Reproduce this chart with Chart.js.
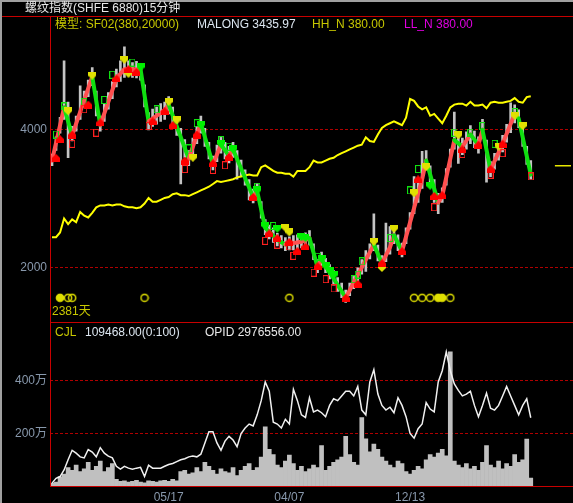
<!DOCTYPE html>
<html lang="zh">
<head>
<meta charset="UTF-8">
<title>螺纹指数 15分钟</title>
<script src="https://cdn.jsdelivr.net/npm/chart.js"></script>
<style>
  body { margin:0; background:#000; width:573px; height:503px; overflow:hidden; position:relative;
         font-family:'Liberation Sans','Noto Sans CJK SC',sans-serif; font-size:12px; }
  .frame-l { position:absolute; left:0; top:0; width:2px; height:503px; background:#a0a0a0; }
  .frame-t { position:absolute; left:0; top:0; width:573px; height:2px; background:#a0a0a0; }
  .rl { position:absolute; background:#c80000; z-index:2; }
  .txt { position:absolute; white-space:pre; line-height:14px; z-index:3; }
  canvas { position:absolute; left:0; }
</style>
</head>
<body>
  <div class="frame-t"></div>
  <div class="frame-l"></div>

  <div class="txt" style="left:25px;top:1px;color:#e8e8e8">螺纹指数(SHFE 6880)15分钟</div>
  <div class="txt" style="left:55px;top:17px;color:#c8c800">模型: SF02(380,20000)</div>
  <div class="txt" style="left:197px;top:17px;color:#dce6f0">MALONG 3435.97</div>
  <div class="txt" style="left:312px;top:17px;color:#c8c800">HH_N 380.00</div>
  <div class="txt" style="left:404px;top:17px;color:#e000e0">LL_N 380.00</div>
  <div class="txt" style="left:52px;top:304px;color:#c8c800">2381天</div>
  <div class="txt" style="left:55px;top:325px;color:#c8c800">CJL</div>
  <div class="txt" style="left:85px;top:325px;color:#dce6f0">109468.00(0:100)</div>
  <div class="txt" style="left:205px;top:325px;color:#e8e8e8">OPID 2976556.00</div>

  <canvas id="main" width="573" height="306" style="top:16px"></canvas>
  <canvas id="vol" width="573" height="181" style="top:322px"></canvas>

  <div class="rl" style="left:2px;top:16px;width:571px;height:1px"></div>
  <div class="rl" style="left:50px;top:322px;width:523px;height:1px"></div>
  <div class="rl" style="left:50px;top:486px;width:523px;height:1px"></div>
  <div class="rl" style="left:50px;top:16px;width:1px;height:471px"></div>

<script>
// 130 slots of 15-minute bars on the x axis, data fills the first 120
const N = 130;
const cats = Array.from({ length: N }, (_, i) => String(i));
const tickIdx = [29, 59, 89];
const tickLbl = ['05/17', '04/07', '12/13'];
const priceTicks = [2000, 4000];
const volTicks = [200, 400];

// price range of each bar (gray)
const priceHigh = [3650,3900,4180,5000,4400,4050,4200,4635,4560,4720, 4900,4560,4200,4380,4540,4700,4880,5000,5200,5000,
  4973,4990,4960,4650,4250,4300,4330,4380,4400,4480, 4330,4180,4020,3860,3700,3880,4050,4200,4020,3820,
  3620,3780,3900,3820,3760,3820,3700,3560,3420,3280, 3140,3220,2960,2700,2620,2580,2500,2470,2440,2450,
  2470,2480,2490,2510,2540,2350,2120,2230,2140,2050, 1960,1860,1780,1680,1780,1890,2000,2120,2250,2350,
  2784,2330,2180,2649,2600,2600,2480,2360,2580,2800, 3324,3250,3689,3700,3480,3280,3080,3160,3440,3720,
  4257,3950,3880,3970,4060,3980,3900,4150,3850,3540, 3660,3790,3920,4080,4392,4360,4290,4020,3760,3554];
const priceLow = [3480,3700,3950,4150,3595,3840,3980,4150,4330,4480, 4640,4200,3980,4120,4300,4450,4620,4700,4760,4780,
  4760,4750,4720,4330,4000,4050,4080,4120,4150,4230, 4080,3920,3216,3600,3480,3650,3800,3950,3760,3580,
  3420,3540,3660,3580,3520,3600,3284,3330,3200,2986, 2940,2990,2720,2480,2420,2370,2320,2290,2250,2260,
  2260,2270,2290,2300,2330,2120,1930,2030,1930,1840, 1750,1660,1570,1500,1600,1700,1810,1910,1950,2130,
  2250,2100,1990,2090,2200,2350,2250,2160,2350,2560, 2784,2950,3150,3420,3220,2950,2784,2950,3200,3460,
  3720,3514,3640,3720,3800,3740,3660,3880,3243,3320, 3430,3560,3680,3820,3960,4100,4030,3760,3500,3284];

// SF02 swing points (thick red/green line)
const zzIdx = [0,3,5,10,12,16,18,22,24,28,29,34,37,40,42,44,45,50,51,53,56,58,62,64,66,67,73,80,82,84,85,87,92,93,96,97,100,102,104,106,107,109,112,115,116,119];
const zzVal = [3554,4324,3919,4770,4068,4743,4878,4878,4122,4284,4365,3581,4095,3500,3784,3622,3716,3027,3108,2581,2405,2338,2378,2432,2014,2122,1568,2338,2068,2297,2473,2243,3284,3554,2946,3041,3851,3757,3932,3784,4000,3419,3797,4230,4162,3351];

// MALONG (yellow)
const malong = [2446,2446,2514,2716,2635,2703,2662,2811,2757,2730, 2797,2878,2905,2905,2919,2905,2919,2919,2892,2878,
  2878,2865,2878,2932,3014,2959,2959,2986,3014,3027, 3068,3081,3054,3054,3041,3068,3095,3122,3149,3176,
  3216,3257,3243,3257,3270,3284,3311,3324,3338,3351, 3338,3338,3459,3486,3446,3405,3378,3378,3365,3365,
  3324,3405,3405,3405,3459,3554,3527,3527,3554,3581, 3595,3635,3662,3689,3716,3743,3770,3784,3892,3838,
  3824,3932,4027,4068,4095,4122,4095,4068,4176,4446, 4419,4338,4297,4324,4203,4230,4162,4095,4203,4324,
  4365,4378,4378,4351,4405,4351,4351,4365,4311,4392, 4405,4392,4392,4405,4419,4459,4405,4392,4473,4486];
const lastIdx = [125,126,127,128,129];
const lastVal = [3480,3480,3480,3480,3480];

// signal markers
const redUpIdx = [1,2,5,9,12,16,19,21,25,28,30,33,36,40,44,50,54,56,59,61,63,66,73,76,82,87,91,95,97,102,106,109,112];
const redUpVal = [3595,3865,3932,4365,4108,4743,4878,4838,4122,4270,4068,3554,3932,3514,3608,3027,2500,2432,2378,2243,2311,2027,1568,1770,2068,2243,3284,3041,3054,3716,3784,3432,3797];
const redBoxIdx = [5,8,11,24,33,40,43,53,56,59,60,65,68,70,95,102,109,112,119];
const redBoxVal = [3797,4297,3959,4054,3432,3419,3486,2392,2338,2311,2176,1932,1838,1703,2878,3649,3351,3662,3324];
const grnBoxIdx = [1,3,8,13,15,20,26,34,36,42,44,51,55,66,75,76,77,84,89,91,100,104,107,110,115];
const grnBoxVal = [3932,4338,4405,4432,4797,4973,4297,3730,4095,3851,3757,3176,2608,2162,1838,1905,2095,2432,3122,3432,3959,3959,4054,3797,4257];
const grnDnIdx = [22,37,42,45,51,53,56,62,63,67,68,69,70,94];
const grnDnVal = [4905,4068,3797,3716,3122,2608,2568,2446,2432,2135,2027,1959,1892,3189];
const yelDnIdx = [4,10,18,19,29,31,35,58,59,80,82,85,90,93,101,111,115,117];
const yelDnVal = [4270,4784,5014,4811,4405,4135,3595,2581,2514,2378,2000,2568,3081,3459,3919,3757,4203,4054];
const moonLevel = 1568;
const moonIdx = [4,5,23,59,90,92,94,99];
const moonFullIdx = [2,96,97];

// volume panel, in 万
const opid = [11,29,36,61,100,136,125,111,107,139, 129,111,146,125,114,107,75,64,75,68,
  64,68,71,36,79,68,68,68,75,82, 86,93,100,104,111,114,111,121,164,207,
  207,164,136,171,189,175,150,200,221,236, 229,271,325,396,361,243,236,221,254,236,
  368,325,271,261,336,282,289,279,264,307, 332,325,343,361,361,343,379,289,271,396,
  443,350,307,289,300,279,336,307,264,200, 182,218,236,318,293,282,396,439,511,439,
  389,364,343,350,361,307,264,307,354,296, 289,307,343,379,343,307,271,307,332,260];
const cjl = [10,15,35,45,70,60,80,55,65,90, 60,75,95,55,70,85,25,18,20,15,
  18,22,15,12,20,18,15,20,22,18, 25,20,55,60,45,50,70,55,90,75,
  60,45,65,55,50,70,40,60,75,85, 60,70,110,225,140,120,80,70,95,118,
  85,60,75,55,65,80,70,154,60,75, 90,100,110,189,120,90,80,261,180,130,
  160,140,110,95,80,70,95,85,55,45, 60,75,65,100,120,110,125,140,115,511,
  95,80,70,85,65,75,60,90,154,80, 70,95,65,85,75,120,90,100,179,30];

function sparse(idx, val) {
  const a = new Array(N).fill(null);
  idx.forEach((k, j) => { a[k] = Array.isArray(val) ? val[j] : val; });
  return a;
}

const zzData = sparse(zzIdx, zzVal);
const upRed = '#ff5050', dnGreen = '#10e010';
// colour of a piece of the zigzag: look up the swing points on both sides
function zzColor(c) {
  let a = c.p0DataIndex, b = c.p1DataIndex;
  while (a > 0 && zzData[a] == null) a--;
  while (b < N - 1 && zzData[b] == null) b++;
  return zzData[b] >= zzData[a] ? upRed : dnGreen;
}

function icon(w, h, draw) {
  const c = document.createElement('canvas');
  c.width = w; c.height = h;
  draw(c.getContext('2d'));
  return c;
}
const houseUp = col => icon(8, 8, g => {
  g.fillStyle = col; g.beginPath();
  g.moveTo(4, 0); g.lineTo(8, 4); g.lineTo(8, 8); g.lineTo(0, 8); g.lineTo(0, 4);
  g.closePath(); g.fill();
});
const houseDown = col => icon(8, 8, g => {
  g.fillStyle = col; g.beginPath();
  g.moveTo(0, 0); g.lineTo(8, 0); g.lineTo(8, 4); g.lineTo(4, 8); g.lineTo(0, 4);
  g.closePath(); g.fill();
});
const box = col => icon(6, 8, g => {
  g.strokeStyle = col; g.lineWidth = 1; g.strokeRect(0.5, 0.5, 5, 7);
});
const moon = full => icon(10, 10, g => {
  g.strokeStyle = '#e0e000'; g.lineWidth = 1.5;
  g.beginPath(); g.arc(5, 5, 3.6, 0, Math.PI * 2);
  if (full) { g.fillStyle = '#e0e000'; g.fill(); }
  g.stroke();
});

const tickFont = { family: "'Liberation Sans','Noto Sans CJK SC',sans-serif", size: 12 };
const tickColor = '#8898ac';
const gridRed = '#b00000';

function markers(data, img, order) {
  return { type: 'line', data: data, showLine: false, pointStyle: img, pointRadius: 4,
           order: order };
}

new Chart(document.getElementById('main'), {
  type: 'bar',
  data: {
    labels: cats,
    datasets: [
      { type: 'bar', data: priceHigh.map((h, i) => [priceLow[i], h]),
        backgroundColor: '#c4c4c4', barThickness: 2, order: 10 },
      { type: 'line', data: malong, borderColor: '#ffff00', borderWidth: 2,
        pointRadius: 0, tension: 0, order: 8 },
      { type: 'line', data: sparse(lastIdx, lastVal), borderColor: '#e8e800', borderWidth: 1.5,
        pointRadius: 0, order: 8 },
      { type: 'line', data: zzData, spanGaps: true, borderWidth: 4,
        pointRadius: 0, tension: 0, borderJoinStyle: 'round', borderCapStyle: 'round',
        borderColor: upRed, segment: { borderColor: zzColor }, order: 6 },
      markers(sparse(redBoxIdx, redBoxVal), box('#ff2020'), 4),
      markers(sparse(grnBoxIdx, grnBoxVal), box('#10e010'), 4),
      markers(sparse(yelDnIdx, yelDnVal), houseDown('#e0e000'), 3),
      markers(sparse(grnDnIdx, grnDnVal), houseDown('#00f000'), 2),
      markers(sparse(redUpIdx, redUpVal), houseUp('#ff0000'), 1),
      markers(sparse(moonIdx, moonLevel), moon(false), 1),
      markers(sparse(moonFullIdx, moonLevel), moon(true), 1)
    ]
  },
  options: {
    responsive: false, animation: false, devicePixelRatio: 1, events: [],
    layout: { padding: 0, autoPadding: false },
    plugins: { legend: { display: false }, tooltip: { enabled: false } },
    scales: {
      x: { display: false, offset: true },
      y: {
        min: 1365, max: 5500,
        afterFit: s => { s.width = 50; },
        afterBuildTicks: s => { s.ticks = priceTicks.map(v => ({ value: v })); },
        ticks: { color: tickColor, font: tickFont, padding: 3, callback: v => String(v) },
        grid: { color: gridRed, drawTicks: false },
        border: { display: false, dash: [3, 2] }
      }
    }
  }
});

new Chart(document.getElementById('vol'), {
  type: 'bar',
  data: {
    labels: cats,
    datasets: [
      { type: 'line', data: opid, borderColor: '#f0f0f0', borderWidth: 1.5,
        pointRadius: 0, tension: 0, order: 1 },
      { type: 'bar', data: cjl, backgroundColor: '#c0c0c0',
        barPercentage: 1, categoryPercentage: 1, order: 2 }
    ]
  },
  options: {
    responsive: false, animation: false, devicePixelRatio: 1, events: [],
    layout: { padding: 0, autoPadding: false },
    plugins: { legend: { display: false }, tooltip: { enabled: false } },
    scales: {
      x: {
        offset: true,
        afterFit: s => { s.height = 17; },
        grid: { display: false, drawTicks: false },
        border: { display: false },
        ticks: {
          autoSkip: false, maxRotation: 0, color: tickColor, font: tickFont, padding: 4,
          callback: (v, i) => { const k = tickIdx.indexOf(i); return k >= 0 ? tickLbl[k] : null; }
        }
      },
      y: {
        min: 0, max: 585.7,
        afterFit: s => { s.width = 50; },
        afterBuildTicks: s => { s.ticks = volTicks.map(v => ({ value: v })); },
        ticks: { color: tickColor, font: tickFont, padding: 3, callback: v => v + '万' },
        grid: { color: gridRed, drawTicks: false },
        border: { display: false, dash: [3, 2] }
      }
    }
  }
});
</script>
</body>
</html>
